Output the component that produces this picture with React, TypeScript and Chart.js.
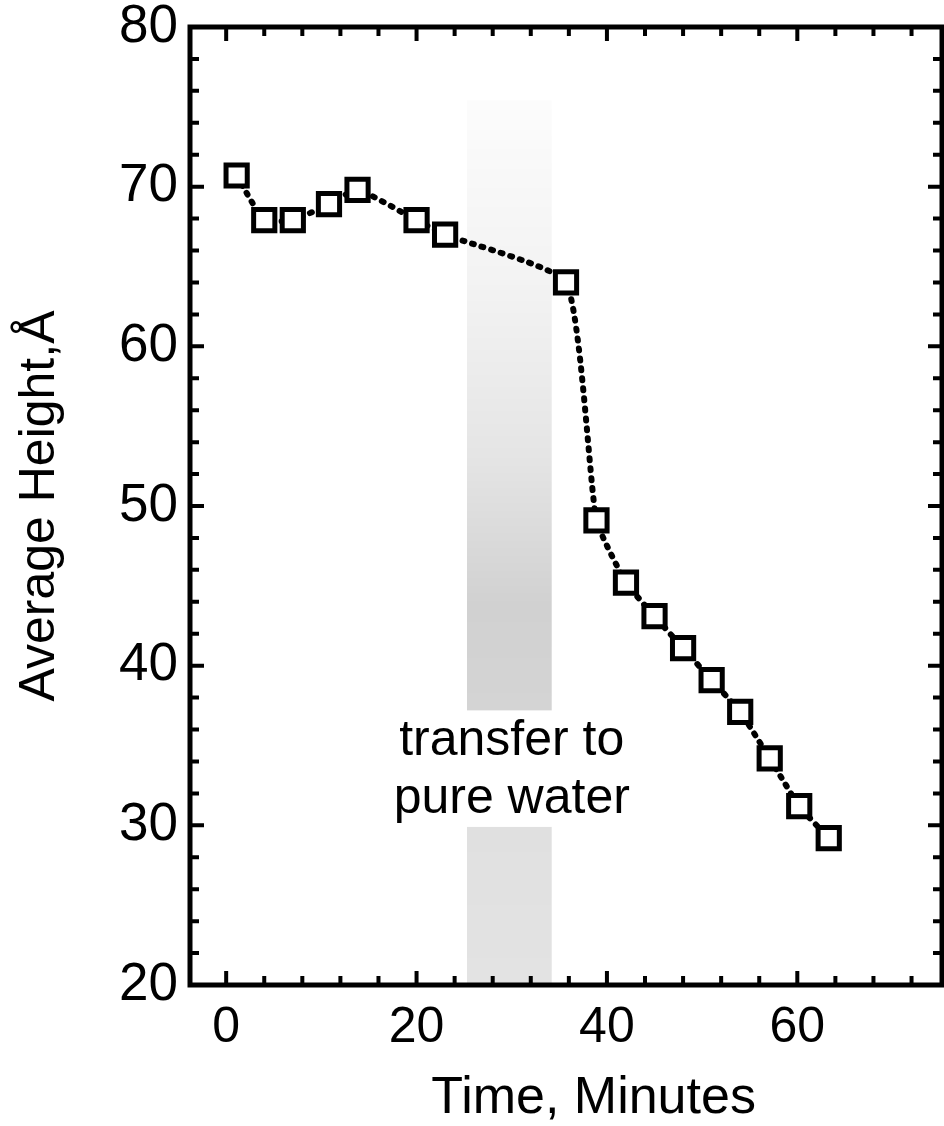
import React, { useEffect, useRef } from 'react';
import { Chart, registerables } from 'chart.js';

Chart.register(...registerables);

// ---- data ----
const timeMinutes = [1.1, 4, 7, 10.8, 13.8, 20, 23, 35.7, 38.9, 42, 45, 48, 51, 54, 57.1, 60.2, 63.3];
const heightAngstrom = [70.7, 67.9, 67.9, 68.9, 69.8, 67.9, 67.0, 64.0, 49.1, 45.2, 43.1, 41.1, 39.1, 37.1, 34.2, 31.2, 29.2];

const xRange = [-3.8, 75.2];
const yRange = [20, 80];
const xTickLabels = [0, 20, 40, 60];
const yTickLabels = [20, 30, 40, 50, 60, 70, 80];
const xMinorStep = 4;
const yMinorStep = 2;

// shaded "transfer" period (minutes) and its vertical extent (Å), with a gap for the text
const transferBand = [25.3, 34.2];
const bandHeights = [75.4, 20];
const bandGap = [37.2, 29.9];
const annotationLines = ['transfer to', 'pure water'];
const annotationX = 30;
const annotationBaselines = [34.4, 30.8];

const xTitle = 'Time, Minutes';
const yTitle = 'Average Height,Å';

const FONT = "'Liberation Sans', Arial, Helvetica, sans-serif";

const decorPlugin = {
  id: 'decor',
  beforeDatasetsDraw(chart: any) {
    const { ctx, scales } = chart;
    const x = scales.x, y = scales.y;
    const x0 = x.getPixelForValue(transferBand[0]);
    const x1 = x.getPixelForValue(transferBand[1]);
    const yTop = y.getPixelForValue(bandHeights[0]);
    const yBot = y.getPixelForValue(bandHeights[1]);
    const gTop = y.getPixelForValue(bandGap[0]);
    const gBot = y.getPixelForValue(bandGap[1]);
    const grad = ctx.createLinearGradient(0, yTop, 0, yBot);
    const stop = (f: number, a: number) => grad.addColorStop(f, `rgba(0,0,0,${a})`);
    stop(0, 0.01);
    stop(0.22, 0.05);
    stop(0.4, 0.1);
    stop(0.57, 0.18);
    stop(0.69, 0.17);
    stop(0.82, 0.12);
    stop(1, 0.11);
    ctx.save();
    ctx.fillStyle = grad;
    ctx.fillRect(x0, yTop, x1 - x0, gTop - yTop);
    ctx.fillRect(x0, gBot, x1 - x0, yBot - gBot);

    ctx.fillStyle = '#000';
    ctx.font = `50px ${FONT}`;
    ctx.textAlign = 'center';
    ctx.textBaseline = 'alphabetic';
    annotationLines.forEach((t, i) => {
      ctx.fillText(t, x.getPixelForValue(annotationX), y.getPixelForValue(annotationBaselines[i]));
    });
    ctx.restore();
  },
  afterDatasetsDraw(chart: any) {
    const { ctx, chartArea, scales } = chart;
    const x = scales.x, y = scales.y;
    const { left, right, top, bottom } = chartArea;
    ctx.save();
    ctx.strokeStyle = '#000';
    ctx.lineWidth = 5;
    ctx.lineCap = 'butt';
    ctx.strokeRect(left, top, right - left, bottom - top);

    ctx.lineWidth = 4;
    ctx.beginPath();
    const xStart = Math.ceil(xRange[0] / xMinorStep) * xMinorStep;
    for (let v = xStart; v <= xRange[1]; v += xMinorStep) {
      const px = x.getPixelForValue(v);
      const len = xTickLabels.includes(v) ? 14 : 9;
      ctx.moveTo(px, bottom);
      ctx.lineTo(px, bottom - len);
      ctx.moveTo(px, top);
      ctx.lineTo(px, top + len);
    }
    for (let v = yRange[0] + yMinorStep; v < yRange[1]; v += yMinorStep) {
      const py = y.getPixelForValue(v);
      const len = yTickLabels.includes(v) ? 14 : 9;
      ctx.moveTo(left, py);
      ctx.lineTo(left + len, py);
      ctx.moveTo(right, py);
      ctx.lineTo(right - len, py);
    }
    ctx.stroke();

    // x-axis title
    ctx.fillStyle = '#000';
    ctx.font = `52px ${FONT}`;
    ctx.textAlign = 'center';
    ctx.textBaseline = 'alphabetic';
    ctx.fillText(xTitle, x.getPixelForValue(38.6), 1113);
    ctx.restore();
  },
};

export default function App() {
  const ref = useRef<HTMLCanvasElement | null>(null);

  useEffect(() => {
    if (!ref.current) return;
    const points = timeMinutes.map((t, i) => ({ x: t, y: heightAngstrom[i] }));
    const chart = new Chart(ref.current, {
      type: 'line',
      data: {
        datasets: [
          {
            data: points,
            borderColor: '#000',
            borderWidth: 6,
            borderDash: [2, 8],
            borderCapStyle: 'round',
            tension: 0.15,
            pointStyle: 'rect',
            pointRadius: 15,
            pointBorderWidth: 5,
            pointBorderColor: '#000',
            pointBackgroundColor: '#fff',
            fill: false,
          },
        ],
      },
      options: {
        responsive: false,
        animation: false,
        devicePixelRatio: 1,
        layout: { autoPadding: false, padding: { top: 27, right: 2, left: 0, bottom: 0 } },
        plugins: { legend: { display: false }, tooltip: { enabled: false } },
        scales: {
          x: {
            type: 'linear',
            min: xRange[0],
            max: xRange[1],
            grid: { display: false, drawTicks: false },
            border: { display: false },
            afterBuildTicks: (s: any) => {
              s.ticks = xTickLabels.map((v) => ({ value: v }));
            },
            ticks: {
              autoSkip: false,
              maxRotation: 0,
              color: '#000',
              padding: 13,
              font: { family: FONT, size: 50 },
              callback: (v: any) => String(v),
            },
            title: { display: false },
            afterFit: (s: any) => {
              s.height = 141;
              s.paddingLeft = 0;
              s.paddingRight = 0;
            },
          },
          y: {
            type: 'linear',
            min: yRange[0],
            max: yRange[1],
            grid: { display: false, drawTicks: false },
            border: { display: false },
            afterBuildTicks: (s: any) => {
              s.ticks = yTickLabels.map((v) => ({ value: v }));
            },
            ticks: {
              autoSkip: false,
              color: '#000',
              padding: 12,
              font: { family: FONT, size: 53 },
              callback: (v: any) => String(v),
            },
            title: {
              display: true,
              text: yTitle,
              color: '#000',
              font: { family: FONT, size: 50 },
              padding: { top: 10, bottom: 0 },
            },
            afterFit: (s: any) => {
              s.width = 190;
              s.paddingTop = 0;
              s.paddingBottom = 0;
            },
          },
        },
      } as any,
      plugins: [decorPlugin],
    });
    return () => chart.destroy();
  }, []);

  return (
    <div style={{ position: 'absolute', left: 0, top: 0, width: 944, height: 1126, background: '#fff' }}>
      <canvas ref={ref} width={944} height={1126} style={{ display: 'block', width: 944, height: 1126 }} />
    </div>
  );
}
